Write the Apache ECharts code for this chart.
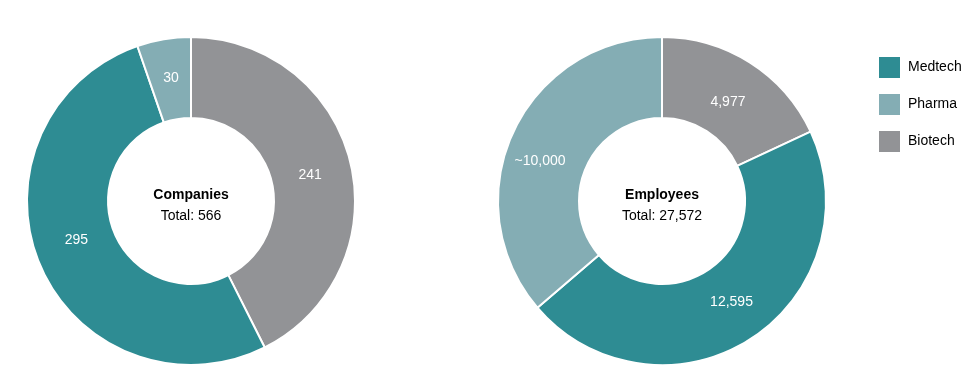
<!DOCTYPE html>
<html>
<head>
<meta charset="utf-8">
<script src="https://cdn.jsdelivr.net/npm/echarts@6/dist/echarts.min.js"></script>
<style>
  html, body { margin: 0; padding: 0; background: #fff; }
  #main { width: 976px; height: 378px; }
</style>
</head>
<body>
<div id="main"></div>
<script>
var sectors = ['Biotech', 'Medtech', 'Pharma'];
var companies = [241, 295, 30];
var employees = [4977, 12595, 10000];
var employeeLabels = ['4,977', '12,595', '~10,000'];
var colors = { Medtech: '#2e8c93', Pharma: '#84adb4', Biotech: '#929396' };
// small nudges so the slice labels sit where the original had them
var companyNudge = [[-4, 3], [2, -10], [1, 2]];
var employeeNudge = [[-2, 8], [1, -5], [-7, 13]];
var FONT = 'Liberation Sans, Arial, sans-serif';

var myChart = echarts.init(document.getElementById('main'));

function pieData(values, labels, nudge) {
    return sectors.map(function (s, i) {
        return {
            name: s,
            value: values[i],
            label: { formatter: labels ? labels[i] : String(values[i]), offset: nudge[i] },
            itemStyle: { color: colors[s] }
        };
    });
}

function donut(center, values, labels, nudge) {
    return {
        type: 'pie',
        radius: [83, 164],
        center: center,
        startAngle: 90,
        clockwise: true,
        animation: false,
        silent: true,
        itemStyle: { borderColor: '#fff', borderWidth: 2 },
        label: {
            show: true,
            position: 'inside',
            color: '#fff',
            fontSize: 14,
            fontFamily: FONT
        },
        labelLine: { show: false },
        data: pieData(values, labels, nudge)
    };
}

var option = {
    legend: {
        orient: 'vertical',
        left: 872,
        top: 50,
        itemWidth: 23,
        itemHeight: 23,
        itemGap: 12,
        icon: 'rect',
        data: ['Medtech', 'Pharma', 'Biotech'],
        textStyle: { color: '#000', fontSize: 14, fontFamily: FONT, padding: [0, 0, 0, 2] }
    },
    graphic: [
        { type: 'text', x: 191, y: 195, style: { text: 'Companies', fill: '#000', font: 'bold 14px ' + FONT, align: 'center', verticalAlign: 'middle' } },
        { type: 'text', x: 191, y: 216, style: { text: 'Total: 566', fill: '#000', font: '14px ' + FONT, align: 'center', verticalAlign: 'middle' } },
        { type: 'text', x: 662, y: 195, style: { text: 'Employees', fill: '#000', font: 'bold 14px ' + FONT, align: 'center', verticalAlign: 'middle' } },
        { type: 'text', x: 662, y: 216, style: { text: 'Total: 27,572', fill: '#000', font: '14px ' + FONT, align: 'center', verticalAlign: 'middle' } }
    ],
    series: [
        donut([191, 201], companies, null, companyNudge),
        donut([662, 201], employees, employeeLabels, employeeNudge)
    ]
};

option && myChart.setOption(option);
</script>
</body>
</html>
